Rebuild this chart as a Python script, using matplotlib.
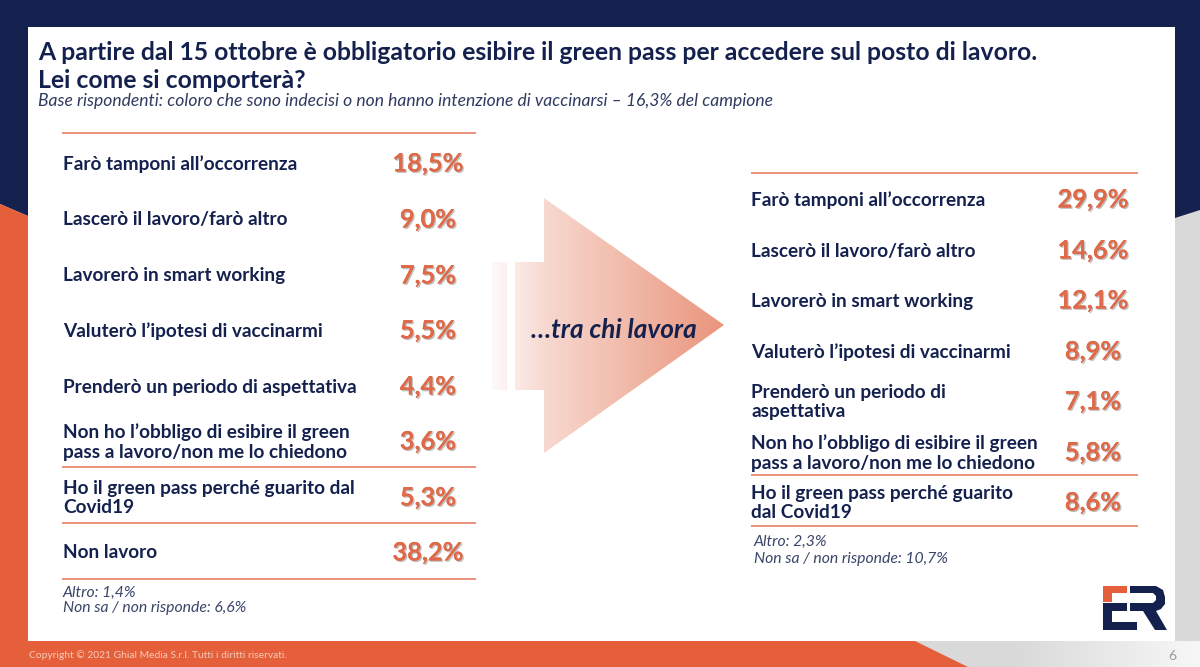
import numpy as np
import matplotlib
matplotlib.use("Agg")
import matplotlib.pyplot as plt
from matplotlib.patches import Polygon, Rectangle
from matplotlib.colors import LinearSegmentedColormap
import matplotlib.patheffects as pe

NAVY = "#14214E"
ORANGE = "#E5603A"
LINE = "#EB8A70"
VAL = "#DF6A49"
GREY = "#D9D9D9"

title_lines = ["A partire dal 15 ottobre è obbligatorio esibire il green pass per accedere sul posto di lavoro.",
               "Lei come si comporterà?"]
subtitle = "Base rispondenti: coloro che sono indecisi o non hanno intenzione di vaccinarsi – 16,3% del campione"
left_labels = ["Farò tamponi all’occorrenza", "Lascerò il lavoro/farò altro", "Lavorerò in smart working",
               "Valuterò l’ipotesi di vaccinarmi", "Prenderò un periodo di aspettativa",
               "Non ho l’obbligo di esibire il green\npass a lavoro/non me lo chiedono",
               "Ho il green pass perché guarito dal\nCovid19", "Non lavoro"]
left_values = [18.5, 9.0, 7.5, 5.5, 4.4, 3.6, 5.3, 38.2]
right_labels = ["Farò tamponi all’occorrenza", "Lascerò il lavoro/farò altro", "Lavorerò in smart working",
                "Valuterò l’ipotesi di vaccinarmi", "Prenderò un periodo di\naspettativa",
                "Non ho l’obbligo di esibire il green\npass a lavoro/non me lo chiedono",
                "Ho il green pass perché guarito\ndal Covid19"]
right_values = [29.9, 14.6, 12.1, 8.9, 7.1, 5.8, 8.6]
left_notes = "Altro: 1,4%\nNon sa / non risponde: 6,6%"
right_notes = "Altro: 2,3%\nNon sa / non risponde: 10,7%"
arrow_label = "…tra chi lavora"
copyright_text = "Copyright © 2021 Ghial Media S.r.l. Tutti i diritti riservati."
page_number = "6"

plt.rcParams["font.family"] = ["Lato", "DejaVu Sans"]
fig = plt.figure(figsize=(12, 6.67), dpi=100)
ax = fig.add_axes([0, 0, 1, 1])
ax.set_xlim(0, 1200)
ax.set_ylim(667, 0)
ax.axis("off")


def poly(points, color, z=1):
    ax.add_patch(Polygon(points, closed=True, facecolor=color, edgecolor="none", zorder=z))


# background
ax.add_patch(Rectangle((0, 0), 1200, 667, facecolor=GREY, edgecolor="none", zorder=0))
poly([(0, 0), (1200, 0), (1200, 210), (1175, 218), (28, 216), (0, 204)], NAVY)
poly([(0, 204), (28, 216), (28, 641), (915, 641), (968, 667), (0, 667)], ORANGE)
ax.imshow(np.linspace(0, 1, 64).reshape(1, -1), extent=(1010, 1200, 667, 641),
          cmap=LinearSegmentedColormap.from_list("g", [GREY, "#F7F7F7"]), aspect="auto", zorder=0.5)
ax.add_patch(Rectangle((28, 27), 1147, 614, facecolor="white", edgecolor="none", zorder=2))
ax.set_xlim(0, 1200)
ax.set_ylim(667, 0)

# title
ax.text(38, 53, title_lines[0], fontsize=17.8, fontweight="bold", color=NAVY, va="center", zorder=5)
ax.text(38, 80, title_lines[1], fontsize=17.8, fontweight="bold", color=NAVY, va="center", zorder=5)
ax.text(38, 101, subtitle, fontsize=12.6, style="italic", color="#2F3A60", va="center", zorder=5)


def table(labels, values, ys, x_text, x_val, x0, x1, rules):
    for lab, v, y in zip(labels, values, ys):
        ax.text(x_text, y + 1, lab, fontsize=13.7, fontweight="bold", color=NAVY, va="center",
                linespacing=1.2, zorder=5)
        t = ax.text(x_val, y + 1, f"{v:.1f}%".replace(".", ","), fontsize=18.3, fontweight="bold",
                    color=VAL, ha="center", va="center", zorder=5)
        t.set_path_effects([pe.withSimplePatchShadow(offset=(1, -1), shadow_rgbFace="#999999", alpha=0.6),
                            pe.Normal()])
    for r in rules:
        ax.plot([x0, x1], [r, r], color=LINE, lw=1.3, zorder=4, solid_capstyle="butt")


table(left_labels, left_values, [163, 219, 275, 330, 386, 441, 497, 552], 63, 428, 62, 476,
      [133, 467, 523, 579])
table(right_labels, right_values, [199, 250, 300, 351, 401, 452, 502], 751, 1093, 751, 1138,
      [173, 475, 526])

NOTE = "#3A4568"
ax.text(63, 593, left_notes.split("\n")[0], fontsize=11.3, style="italic", color=NOTE, va="center", zorder=5)
ax.text(63, 608, left_notes.split("\n")[1], fontsize=11.3, style="italic", color=NOTE, va="center", zorder=5)
ax.text(754, 542, right_notes.split("\n")[0], fontsize=11.3, style="italic", color=NOTE, va="center", zorder=5)
ax.text(754, 559, right_notes.split("\n")[1], fontsize=11.3, style="italic", color=NOTE, va="center", zorder=5)

# gradient arrow
cmap = LinearSegmentedColormap.from_list("a", [(0, "#FFFFFF"), (0.25, "#F7D9D0"), (1, "#EA957C")])
grad = np.linspace(0, 1, 256).reshape(1, -1)
im = ax.imshow(grad, extent=(484, 724, 453, 198), cmap=cmap, aspect="auto", zorder=3)
arrow = Polygon([(515, 262), (544, 262), (544, 198), (724, 325), (544, 453), (544, 390), (515, 390)],
                closed=True, transform=ax.transData, facecolor="none", edgecolor="none")
ax.add_patch(arrow)
im.set_clip_path(arrow)
im2 = ax.imshow(grad, extent=(484, 724, 453, 198), cmap=cmap, aspect="auto", zorder=3)
stripe = Rectangle((492, 262), 15, 128, transform=ax.transData, facecolor="none", edgecolor="none")
ax.add_patch(stripe)
im2.set_clip_path(stripe)
ax.set_xlim(0, 1200)
ax.set_ylim(667, 0)
ax.text(614, 330, arrow_label, fontsize=18.8, fontweight="bold", style="italic", color=NAVY,
        ha="center", va="center", zorder=6)

# footer
ax.text(29, 655, copyright_text, fontsize=7.4, color="#F6C9B8", va="center", zorder=5)
ax.text(1172, 656, page_number, fontsize=10, color="#9A9A9A", ha="center", va="center", zorder=5)

# logo
poly([(1103, 586), (1127, 586), (1127, 593), (1112, 593), (1112, 602), (1103, 602)], ORANGE, 5)
poly([(1103, 603), (1127, 603), (1127, 611), (1112, 611), (1112, 622), (1137, 622), (1137, 630), (1103, 630)], NAVY, 5)
poly([(1130, 586), (1156, 586), (1163, 590), (1165, 597), (1165, 604), (1161, 609), (1156, 611),
      (1167, 630), (1155, 630), (1143, 611), (1130, 611), (1130, 603), (1153, 603), (1156, 600),
      (1156, 596), (1153, 593), (1130, 593)], NAVY, 5)

fig.savefig("out.png", dpi=100)
